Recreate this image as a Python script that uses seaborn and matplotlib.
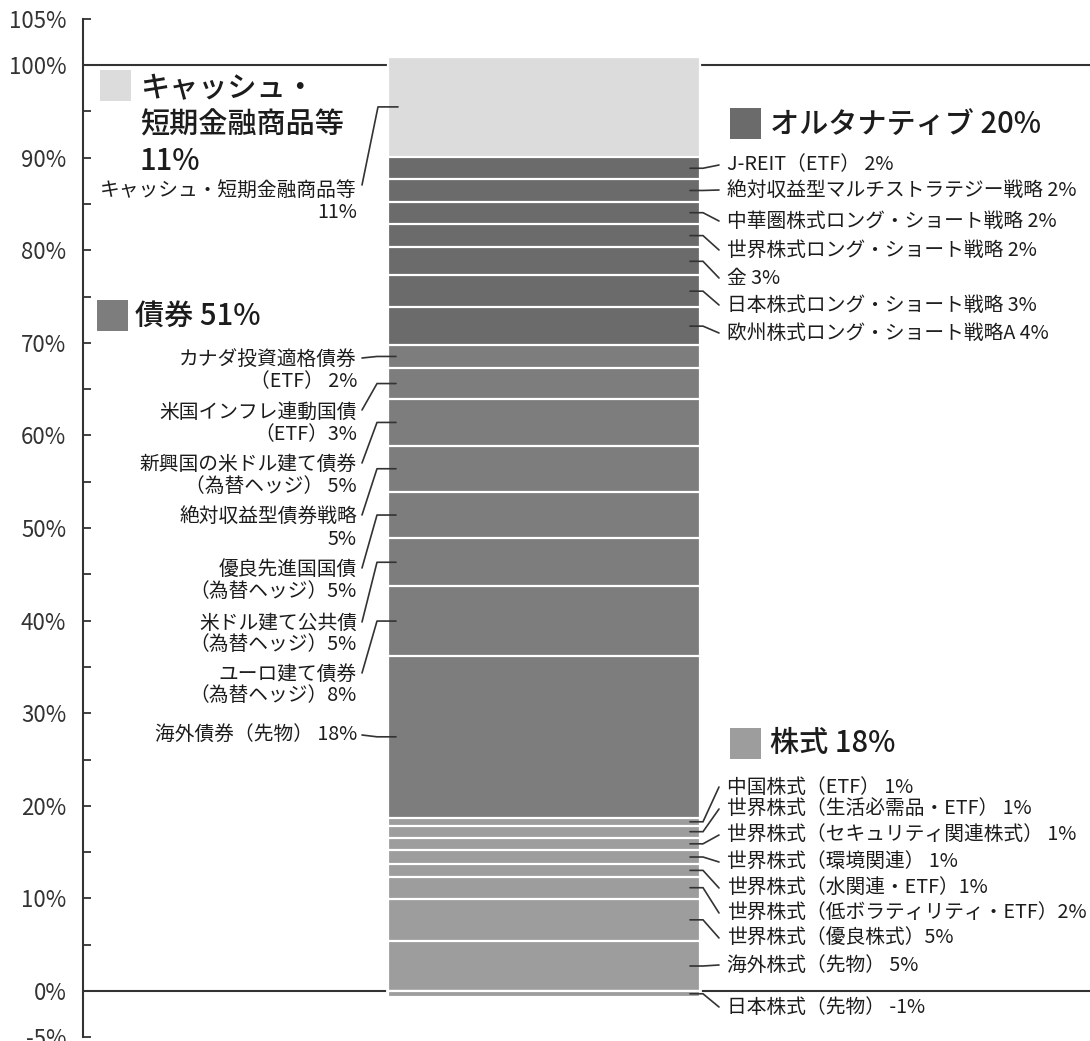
import numpy as np
import matplotlib.pyplot as plt
import seaborn as sns
from matplotlib.patches import Rectangle

# ---------------------------------------------------------
# Daten (innerhalb jeder Gruppe von unten nach oben)
# ---------------------------------------------------------
neg_label = "日本株式（先物） -1%"
neg_value = -0.6

stock_labels = ["海外株式（先物） 5%", "世界株式（優良株式）5%", "世界株式（低ボラティリティ・ETF）2%",
                "世界株式（水関連・ETF）1%", "世界株式（環境関連） 1%", "世界株式（セキュリティ関連株式） 1%",
                "世界株式（生活必需品・ETF） 1%", "中国株式（ETF） 1%"]
stock_values = [5.4, 4.57, 2.37, 1.37, 1.52, 1.33, 1.29, 0.85]

bond_labels = ["海外債券（先物） 18%", "ユーロ建て債券\n（為替ヘッジ）8%", "米ドル建て公共債\n（為替ヘッジ）5%",
               "優良先進国国債\n（為替ヘッジ）5%", "絶対収益型債券戦略\n5%", "新興国の米ドル建て債券\n（為替ヘッジ） 5%",
               "米国インフレ連動国債\n（ETF）3%", "カナダ投資適格債券\n（ETF） 2%"]
bond_values = [17.5, 7.5, 5.2, 5.0, 5.0, 5.0, 3.4, 2.45]

alt_labels = ["欧州株式ロング・ショート戦略A 4%", "日本株式ロング・ショート戦略 3%", "金 3%",
              "世界株式ロング・ショート戦略 2%", "中華圏株式ロング・ショート戦略 2%",
              "絶対収益型マルチストラテジー戦略 2%", "J-REIT（ETF） 2%"]
alt_values = [4.1, 3.45, 3.0, 2.55, 2.4, 2.4, 2.4]

cash_label = "キャッシュ・短期金融商品等\n11%"
cash_value = 10.85

group_titles = ["キャッシュ・\n短期金融商品等\n11%", "債券 51%", "オルタナティブ 20%", "株式 18%"]

tick_values = [-5, 0, 10, 20, 30, 40, 50, 60, 70, 80, 90, 100, 105]

# ---------------------------------------------------------
# Layout / Farben
# ---------------------------------------------------------
C_CASH, C_ALT, C_BOND, C_STOCK = "#dcdcdc", "#6b6b6b", "#7d7d7d", "#9d9d9d"
INK = "#333333"
TXT = "#1c1c1c"
W, H = 1090, 1041
TOP_PX, BOT_PX = 18.7, 1037.3
XMIN, XMAX = -0.458, 0.542
BAR_W = 0.31

sns.set_theme(style="white")
plt.rcParams['font.family'] = ['Noto Sans CJK JP', 'DejaVu Sans']

fig = plt.figure(figsize=(W / 100, H / 100), dpi=100)
ax = fig.add_axes([83 / W, (H - BOT_PX) / H, 1007 / W, (BOT_PX - TOP_PX) / H])


def X(px):
    return XMIN + (px - 83) / 1007 * (XMAX - XMIN)


def Y(py):
    return 105 - (py - TOP_PX) / (BOT_PX - TOP_PX) * 110


# gestapelter Balken: kumulierte Höhen von oben nach unten übereinander zeichnen
values = stock_values + bond_values + alt_values + [cash_value]
colors = [C_STOCK] * len(stock_values) + [C_BOND] * len(bond_values) + [C_ALT] * len(alt_values) + [C_CASH]
tops = np.cumsum(values)
bottoms = tops - np.array(values)
centers = (tops + bottoms) / 2

for top, col in reversed(list(zip(tops, colors))):
    sns.barplot(x=[0], y=[top], color=col, saturation=1, width=BAR_W, edgecolor="white",
                linewidth=1.6, errorbar=None, ax=ax, zorder=2)
sns.barplot(x=[0], y=[neg_value], color=C_STOCK, saturation=1, width=BAR_W, edgecolor="white",
            linewidth=1.6, errorbar=None, ax=ax, zorder=2)

ax.axhline(0, color=INK, lw=1.5, zorder=0.5)
ax.axhline(100, color=INK, lw=1.5, zorder=0.5)

ax.set_xlim(XMIN, XMAX)
ax.set_ylim(-5, 105)
ax.set_xticks([])
ax.set_xlabel("")
ax.set_ylabel("")
ax.set_yticks(tick_values)
ax.set_yticklabels([f"{v}%" for v in tick_values])
ax.set_yticks(np.arange(5, 100, 10), minor=True)
ax.tick_params(axis='y', which='both', direction='in', length=6, width=1.3, color=INK,
               labelsize=16, labelcolor=INK, pad=12, left=True)
for s in ["top", "right", "bottom"]:
    ax.spines[s].set_visible(False)
ax.spines["left"].set_color(INK)
ax.spines["left"].set_linewidth(1.5)

FS = 14.2
n_s, n_b, n_a = len(stock_values), len(bond_values), len(alt_values)
seg_stock = centers[:n_s]
seg_bond = centers[n_s:n_s + n_b]
seg_alt = centers[n_s + n_b:n_s + n_b + n_a]
seg_cash = centers[-1]

# rechte Beschriftungen (Aktien, Alternativen)
stock_label_px = [965, 938, 913, 888, 862, 835, 809, 787]
alt_label_px = [333, 305, 278, 250, 221, 190, 165]
right_items = list(zip(stock_labels, seg_stock, stock_label_px)) + list(zip(alt_labels, seg_alt, alt_label_px))
right_items.append((neg_label, neg_value / 2, 1007))
for lab, seg_y, lpx in right_items:
    ax.plot([X(690), X(703), X(719)], [seg_y, seg_y, Y(lpx)], color=INK, lw=1.2, zorder=3,
            solid_joinstyle="miter", clip_on=False)
    ax.text(X(727), Y(lpx), lab, ha="left", va="center", fontsize=FS, color=TXT)

# linke Beschriftungen (Anleihen, Cash)
bond_first_px = [735, 673, 622, 568, 515, 463, 410, 358]
bond_block_px = [735, 685, 634, 580.5, 528.5, 475.5, 423.5, 371]
for lab, seg_y, fpx, bpx in zip(bond_labels, seg_bond, bond_first_px, bond_block_px):
    ax.plot([X(362), X(377), X(396)], [Y(fpx), seg_y, seg_y], color=INK, lw=1.2, zorder=3)
    ax.text(X(357), Y(bpx), lab, ha="right", va="center", ma="right", fontsize=FS,
            color=TXT, linespacing=1.05)

ax.plot([X(362), X(378), X(398)], [Y(185), seg_cash, seg_cash], color=INK, lw=1.2, zorder=3)
ax.text(X(357), Y(201.5), cash_label, ha="right", va="center", ma="right", fontsize=FS,
        color=TXT, linespacing=1.05)

# Gruppentitel mit Farbquadrat
title_boxes = [(100, 70, C_CASH), (97, 300, C_BOND), (730, 108, C_ALT), (730, 728, C_STOCK)]
title_pos = [(140, 125, "center"), (135, 316, "center"), (770, 124, "center"), (770, 744, "center")]
for title, (bx, by, col), (tx, ty, va) in zip(group_titles, title_boxes, title_pos):
    ax.add_patch(Rectangle((X(bx), Y(by + 31)), X(bx + 31) - X(bx), Y(by) - Y(by + 31),
                           facecolor=col, edgecolor="none", clip_on=False, zorder=3))
    ax.text(X(tx), Y(ty), title, ha="left", va=va, fontsize=21, color=TXT,
            fontweight="medium", linespacing=1.22)

plt.savefig("out.png", dpi=100)
plt.close()
